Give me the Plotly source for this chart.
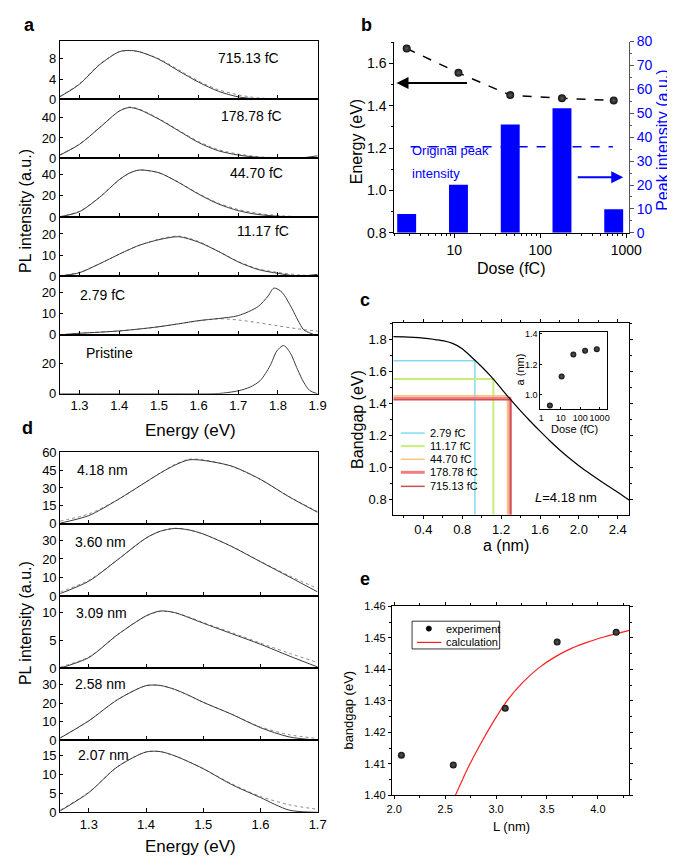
import math
import plotly.graph_objects as go

W, H = 675, 857
FONT = "Liberation Sans, Arial, Helvetica, sans-serif"

# ---------------- panel a : PL spectra vs dose ----------------
E_a = [1.25, 1.30, 1.35, 1.40, 1.425, 1.45, 1.50, 1.55, 1.60, 1.65, 1.70, 1.75, 1.80, 1.85, 1.90]
pl_715 = [0.5, 3.0, 6.8, 9.4, 9.65, 9.4, 7.9, 5.6, 3.4, 1.6, 0.5, 0.1, 0.0, 0.0, 0.2]
fit_715 = [0.6, 3.1, 6.9, 9.4, 9.6, 9.4, 8.0, 5.8, 3.6, 1.9, 0.9, 0.3, 0.1, 0.0, 0.0]
pl_179 = [3.0, 13.8, 30.0, 46.5, 50.0, 48.0, 38.5, 27.0, 15.5, 7.4, 3.2, 1.0, 0.3, 0.0, 2.5]
fit_179 = [3.5, 14.0, 30.0, 46.5, 50.5, 48.5, 39.0, 27.5, 16.5, 8.5, 4.2, 1.6, 0.5, 0.1, 0.0]
pl_447 = [0.3, 5.2, 18.4, 35.0, 41.0, 44.0, 41.5, 32.3, 21.5, 12.3, 6.1, 2.5, 0.9, 0.2, 0.6]
fit_447 = [0.5, 5.5, 18.5, 35.0, 41.0, 44.0, 41.5, 32.5, 22.0, 13.0, 7.2, 3.5, 1.5, 0.5, 0.1]
pl_112 = [0.0, 1.6, 5.8, 10.4, 12.6, 14.6, 17.3, 18.7, 16.1, 11.7, 6.7, 3.1, 1.3, 0.0, 0.8]
fit_112 = [0.2, 1.8, 5.8, 10.4, 12.6, 14.6, 17.5, 19.0, 16.4, 11.8, 6.9, 3.4, 1.7, 0.6, 0.1]
E_279 = [1.25, 1.30, 1.35, 1.40, 1.45, 1.50, 1.55, 1.60, 1.65, 1.70, 1.75, 1.775, 1.79, 1.81, 1.835, 1.85, 1.865, 1.88, 1.90]
pl_279 = [0.0, 0.8, 1.3, 1.9, 2.8, 3.9, 5.3, 6.8, 7.8, 9.2, 13.5, 18.5, 22.3, 20.3, 12.6, 7.1, 2.4, 1.0, -0.5]
E_279_fit = [1.25, 1.30, 1.35, 1.40, 1.45, 1.50, 1.55, 1.60, 1.65, 1.70, 1.75, 1.80, 1.85, 1.90]
fit_279 = [0.0, 0.8, 1.3, 1.9, 2.8, 3.9, 5.3, 6.7, 7.7, 7.1, 5.8, 4.3, 2.9, 1.8]
E_pristine = [1.25, 1.40, 1.55, 1.65, 1.70, 1.73, 1.755, 1.78, 1.797, 1.814, 1.83, 1.849, 1.865, 1.88, 1.90]
pl_pristine = [0.0, 0.0, 0.0, 0.2, 2.0, 4.5, 8.7, 18.5, 28.3, 32.0, 27.5, 16.3, 7.6, 2.2, 0.0]
labels_a = ["715.13 fC", "178.78 fC", "44.70 fC", "11.17 fC", "2.79 fC", "Pristine"]
ticks_energy_a = [1.3, 1.4, 1.5, 1.6, 1.7, 1.8, 1.9]

# ---------------- panel d : PL spectra vs L ----------------
E_d = [1.25, 1.30, 1.35, 1.40, 1.425, 1.45, 1.475, 1.50, 1.55, 1.60, 1.65, 1.70]
pl_418 = [0.6, 6.9, 20.0, 35.0, 42.5, 49.0, 53.5, 53.0, 48.2, 37.2, 22.6, 9.6]
fit_418 = [2.3, 8.3, 20.0, 35.0, 42.5, 49.5, 54.0, 53.5, 48.0, 37.0, 22.8, 10.2]
pl_360 = [1.3, 8.0, 19.5, 31.3, 35.0, 36.5, 35.7, 33.5, 26.7, 18.5, 10.4, 2.2]
fit_360 = [2.2, 8.5, 19.5, 31.3, 35.0, 36.6, 35.8, 33.5, 26.8, 18.7, 11.0, 4.0]
pl_309 = [0.0, 1.9, 6.0, 9.4, 10.3, 10.0, 9.1, 8.1, 6.2, 4.3, 2.2, 0.2]
fit_309 = [0.2, 2.0, 6.0, 9.4, 10.2, 10.0, 9.2, 8.2, 6.4, 4.5, 2.7, 1.0]
pl_258 = [1.2, 10.5, 21.9, 29.5, 29.6, 27.5, 24.2, 20.5, 14.0, 6.8, 1.8, 0.0]
fit_258 = [1.3, 10.5, 21.9, 29.5, 29.6, 27.5, 24.2, 20.5, 14.0, 7.2, 3.0, 0.9]
pl_207 = [0.4, 5.2, 12.0, 15.9, 16.0, 14.9, 13.3, 11.5, 7.3, 3.9, 0.6, 0.0]
fit_207 = [0.6, 5.3, 12.0, 15.9, 16.0, 14.9, 13.3, 11.5, 7.5, 4.2, 2.0, 0.8]
labels_d = ["4.18 nm", "3.60 nm", "3.09 nm", "2.58 nm", "2.07 nm"]
ticks_energy_d = [1.3, 1.4, 1.5, 1.6, 1.7]

# ---------------- panel b : peak energy & intensity vs dose ----------------
dose = [2.79, 11.17, 44.70, 178.78, 715.13]
peak_energy = [1.67, 1.555, 1.45, 1.435, 1.425]
peak_intensity = [7.9, 20.1, 45.3, 52.1, 9.9]
original_peak_intensity = 36
dose_ticks = [10, 100, 1000]

# ---------------- panel c : bandgap vs a ----------------
a_curve = [0.09, 0.2, 0.3, 0.4, 0.5, 0.6, 0.7, 0.8, 0.9, 1.0, 1.1, 1.2, 1.3, 1.4, 1.5,
           1.6, 1.7, 1.8, 1.9, 2.0, 2.1, 2.2, 2.3, 2.4, 2.52]
gap_curve = [1.820, 1.819, 1.816, 1.811, 1.804, 1.795, 1.778, 1.745, 1.690, 1.632, 1.568, 1.496,
             1.424, 1.355, 1.290, 1.228, 1.168, 1.112, 1.060, 1.012, 0.967, 0.925, 0.885, 0.846, 0.795]
a_dose = [0.93, 1.12, 1.265, 1.29, 1.30]
dose_labels = ["2.79 fC", "11.17 fC", "44.70 fC", "178.78 fC", "715.13 fC"]
inset_dose_ticks = [1, 10, 100, 1000]

# ---------------- panel e : bandgap vs L ----------------
L_exp = [2.07, 2.58, 3.09, 3.60, 4.18]
Eg_exp = [1.4128, 1.4097, 1.4277, 1.4487, 1.4518]
L_calc = [2.60, 2.72, 2.85, 2.97, 3.10, 3.26, 3.42, 3.58, 3.74, 3.90, 4.06, 4.31]
Eg_calc = [1.4000, 1.4085, 1.4165, 1.4232, 1.4297, 1.4358, 1.4405, 1.4440, 1.4467, 1.4487, 1.4503, 1.4524]

# =====================================================================
fig = go.Figure()
layout = {}
annotations = []
shapes = []
n_axes = [0]


def X(p):
    return p / W


def Y(p):
    return 1 - p / H


def add_axes(xd, yd, xax, yax):
    n_axes[0] += 1
    n = n_axes[0]
    s = "" if n == 1 else str(n)
    layout["xaxis" + s] = dict(domain=[X(xd[0]), X(xd[1])], anchor="y" + s, **xax)
    layout["yaxis" + s] = dict(domain=[Y(yd[1]), Y(yd[0])], anchor="x" + s, **yax)
    return "x" + s, "y" + s


def ax_style(size=13, ticks="inside", ticklen=4, mirror=True, **kw):
    d = dict(showline=True, linecolor="black", linewidth=1, mirror=mirror, showgrid=False,
             zeroline=False, ticks=ticks, ticklen=ticklen, tickwidth=1, tickcolor="black",
             tickangle=0, tickfont=dict(family=FONT, size=size, color="black"), fixedrange=True)
    d.update(kw)
    return d


def text(x, y, s, size, color="black", angle=0, xanchor="center", yanchor="middle"):
    annotations.append(dict(x=X(x), y=Y(y), xref="paper", yref="paper", text=s, showarrow=False,
                            font=dict(family=FONT, size=size, color=color), textangle=angle,
                            xanchor=xanchor, yanchor=yanchor))


def spectrum(xr, yr, ex, ey, fx, fy):
    if fx is not None:
        fig.add_trace(go.Scatter(x=fx, y=fy, mode="lines", xaxis=xr, yaxis=yr, showlegend=False,
                                 line=dict(color="#8a8a8a", width=1, dash="dot", shape="spline", smoothing=0.8)))
    fig.add_trace(go.Scatter(x=ex, y=ey, mode="lines", xaxis=xr, yaxis=yr, showlegend=False,
                             line=dict(color="#3a3a3a", width=1, shape="spline", smoothing=0.8)))


SPHERE = dict(color="#111111", gradient=dict(type="radial", color="#5a5a5a"), line=dict(width=0))

# ---------------- panel a ----------------
a_bounds = [25, 85, 145, 205, 265, 325, 385]
a_specs = [
    (E_a, pl_715, E_a, fit_715, [0, 11.6], [0, 4, 8], (242, 43)),
    (E_a, pl_179, E_a, fit_179, [0, 58], [0, 20, 40], (245, 102)),
    (E_a, pl_447, E_a, fit_447, [0, 55], [0, 20, 40], (250, 160)),
    (E_a, pl_112, E_a, fit_112, [0, 28], [0, 10, 20], (257, 219)),
    (E_279, pl_279, E_279_fit, fit_279, [0, 28], [0, 10, 20], (92, 284)),
    (E_pristine, pl_pristine, None, None, [0, 39], [0, 20], (99, 343)),
]
for i, (ex, ey, fx, fy, yrng, ytv, lab) in enumerate(a_specs):
    xr, yr = add_axes((48, 313), (a_bounds[i], a_bounds[i + 1]),
                      ax_style(size=13, range=[1.25, 1.9], tickvals=ticks_energy_a, tickformat=".1f",
                               showticklabels=(i == len(a_specs) - 1)),
                      ax_style(size=13, range=yrng, tickvals=ytv, ticklen=3))
    spectrum(xr, yr, ex, ey, fx, fy)
    text(lab[0], lab[1], labels_a[i], 14)

text(13, 199, "PL intensity (a.u.)", 16, angle=-90)
text(182, 422, "Energy (eV)", 17)

# ---------------- panel d ----------------
d_bounds = [444, 517.5, 591, 664.5, 738, 811.5]
d_specs = [
    (pl_418, fit_418, [0, 60.3], [0, 15, 30, 45, 60], (92, 463)),
    (pl_360, fit_360, [0, 39], [0, 10, 20, 30], (90, 536)),
    (pl_309, fit_309, [0, 13], [0, 5, 10], (91, 608)),
    (pl_258, fit_258, [0, 39], [0, 10, 20, 30], (90, 681)),
    (pl_207, fit_207, [0, 19], [0, 5, 10, 15], (93, 753)),
]
for i, (ey, fy, yrng, ytv, lab) in enumerate(d_specs):
    xr, yr = add_axes((48.5, 313), (d_bounds[i], d_bounds[i + 1]),
                      ax_style(size=13, range=[1.25, 1.7], tickvals=ticks_energy_d, tickformat=".1f",
                               showticklabels=(i == len(d_specs) - 1)),
                      ax_style(size=13, range=yrng, tickvals=ytv, ticklen=3))
    spectrum(xr, yr, E_d, ey, E_d, fy)
    text(lab[0], lab[1], labels_d[i], 14)

text(13, 619, "PL intensity (a.u.)", 16, angle=-90)
text(182, 846, "Energy (eV)", 17)

# ---------------- panel b ----------------
b_xrange = [math.log10(2.0), math.log10(1072)]
minor_log = [m * 10 ** k for k in range(0, 3) for m in range(2, 10)]
xb, yb = add_axes((391.7, 632.7), (26, 221),
                  ax_style(size=14, ticks="outside", mirror=False, type="log", range=b_xrange,
                           tickvals=dose_ticks, ticktext=[str(t) for t in dose_ticks],
                           minor=dict(ticks="outside", ticklen=2, tickvals=minor_log, tickcolor="black")),
                  ax_style(size=14, ticks="outside", mirror=False, range=[0.8, 1.703],
                           tickvals=[0.8, 1.0, 1.2, 1.4, 1.6], tickformat=".1f",
                           minor=dict(ticks="outside", ticklen=2, dtick=0.1, tickcolor="black")))
n_axes[0] += 1
s2 = str(n_axes[0])
layout["xaxis" + s2] = dict(overlaying=xb, range=b_xrange, visible=False, anchor="y" + s2,
                            domain=layout["xaxis" + xb[1:]]["domain"], fixedrange=True)
layout["yaxis" + s2] = dict(overlaying=yb, side="right", anchor=xb, range=[0, 80], dtick=10,
                            showline=True, linecolor="#555", linewidth=1, showgrid=False, zeroline=False,
                            ticks="outside", ticklen=4, tickcolor="#555", tickangle=0,
                            minor=dict(ticks="outside", ticklen=2, dtick=5, tickcolor="#555"),
                            tickfont=dict(family=FONT, size=14, color="#0000ff"), fixedrange=True)
xb2, yb2 = "x" + s2, "y" + s2

fig.add_trace(go.Scatter(x=dose, y=peak_energy, mode="lines+markers", xaxis=xb, yaxis=yb, showlegend=False,
                         line=dict(color="black", width=1.5, dash="dash"),
                         marker=dict(size=8, **SPHERE)))
fig.add_trace(go.Bar(x=[math.log10(d) for d in dose], y=peak_intensity, width=0.22, xaxis=xb2, yaxis=yb2,
                     showlegend=False, marker=dict(color="#0000ff", line=dict(width=0))))
fig.add_trace(go.Scatter(x=[math.log10(3.1), math.log10(700)],
                         y=[original_peak_intensity, original_peak_intensity],
                         mode="lines", xaxis=xb2, yaxis=yb2, showlegend=False,
                         line=dict(color="#0000ff", width=1.5, dash="dash")))

text(408, 137, "Original peak", 13, color="#0000ff", xanchor="left")
text(408, 160, "intensity", 13, color="#0000ff", xanchor="left")
annotations.append(dict(x=X(394), y=Y(68.3), xref="paper", yref="paper", text="", showarrow=True,
                        ax=72, ay=0, arrowhead=2, arrowsize=1.2, arrowwidth=2, arrowcolor="black"))
annotations.append(dict(x=X(627), y=Y(164.3), xref="paper", yref="paper", text="", showarrow=True,
                        ax=-47, ay=0, arrowhead=2, arrowsize=1.2, arrowwidth=2, arrowcolor="#0000ff"))
text(353, 128, "Energy (eV)", 16, angle=-90)
text(667, 127, "Peak intensity (a.u.)", 16, color="#0000ff", angle=-90)
text(512, 257, "Dose (fC)", 16)

# ---------------- panel c ----------------
c_xrange = [0.09, 2.52]
c_yrange = [0.704, 1.903]
xc, yc = add_axes((390.7, 633.3), (313.3, 508.3),
                  ax_style(size=13, ticks="outside", ticklen=3, mirror="ticks", range=c_xrange,
                           tickvals=[0.4, 0.8, 1.2, 1.6, 2.0, 2.4], tickformat=".1f",
                           minor=dict(ticks="outside", ticklen=2, dtick=0.2, tick0=0.2, tickcolor="black")),
                  ax_style(size=13, ticks="outside", ticklen=3, mirror="ticks", range=c_yrange,
                           tickvals=[0.8, 1.0, 1.2, 1.4, 1.6, 1.8], tickformat=".1f",
                           minor=dict(ticks="outside", ticklen=2, dtick=0.1, tickcolor="black")))
c_colors = ["#7fdcee", "#c8ee78", "#ffc27a", "#f08080", "#cc5050"]
c_widths = [1.5, 2, 1.5, 3, 1.5]
for i in range(len(dose)):
    fig.add_trace(go.Scatter(x=[c_xrange[0], a_dose[i], a_dose[i]],
                             y=[peak_energy[i], peak_energy[i], c_yrange[0]],
                             mode="lines", xaxis=xc, yaxis=yc, showlegend=False,
                             line=dict(color=c_colors[i], width=c_widths[i])))
fig.add_trace(go.Scatter(x=a_curve, y=gap_curve, mode="lines", xaxis=xc, yaxis=yc, showlegend=False,
                         line=dict(color="black", width=1.2, shape="spline", smoothing=0.6)))
# legend of panel c
leg_rows = [425, 438.3, 451.7, 465, 479.3]
for i, yy in enumerate(leg_rows):
    shapes.append(dict(type="line", xref="paper", yref="paper", x0=X(398.5), x1=X(423), y0=Y(yy), y1=Y(yy),
                       line=dict(color=c_colors[i], width=c_widths[i])))
    text(426, yy, dose_labels[i], 11, xanchor="left")
text(568, 491, "<i>L</i>=4.18 nm", 13)
text(354, 411, "Bandgap (eV)", 16, angle=-90)
text(507, 540, "a (nm)", 16)

# inset
xi, yi = add_axes((541.7, 610.7), (321.7, 400.7),
                  ax_style(size=9, ticks="inside", ticklen=2, mirror=True, type="log",
                           range=[-0.05, 3.4], tickvals=inset_dose_ticks,
                           ticktext=[str(t) for t in inset_dose_ticks]),
                  ax_style(size=9, ticks="inside", ticklen=2, mirror=True, range=[0.905, 1.415],
                           tickvals=[1.0, 1.2, 1.4], tickformat=".1f"))
fig.add_trace(go.Scatter(x=dose, y=a_dose, mode="markers", xaxis=xi, yaxis=yi, showlegend=False,
                         marker=dict(size=6, **SPHERE)))
text(521, 360, "a (nm)", 11, angle=-90)
text(577, 421, "Dose (fC)", 11)

# ---------------- panel e ----------------
xe, ye = add_axes((389.3, 633.3), (601.7, 794.3),
                  ax_style(size=11, ticks="outside", ticklen=3, mirror="ticks", range=[1.977, 4.31],
                           tickvals=[2.0, 2.5, 3.0, 3.5, 4.0], tickformat=".1f",
                           minor=dict(ticks="outside", ticklen=2, dtick=0.25, tick0=2.0, tickcolor="black")),
                  ax_style(size=11, ticks="outside", ticklen=3, mirror="ticks", range=[1.40, 1.46],
                           tickvals=[1.40, 1.41, 1.42, 1.43, 1.44, 1.45, 1.46], tickformat=".2f",
                           minor=dict(ticks="outside", ticklen=2, dtick=0.005, tickcolor="black")))
fig.add_trace(go.Scatter(x=L_calc, y=Eg_calc, mode="lines", xaxis=xe, yaxis=ye, showlegend=False,
                         line=dict(color="#ff2020", width=1.2, shape="spline", smoothing=0.8)))
fig.add_trace(go.Scatter(x=L_exp, y=Eg_exp, mode="markers", xaxis=xe, yaxis=ye, showlegend=False,
                         marker=dict(size=7, **SPHERE)))
# legend of panel e
shapes.append(dict(type="rect", xref="paper", yref="paper", x0=X(410), x1=X(500), y0=Y(645), y1=Y(616.7),
                   line=dict(color="black", width=0.8), fillcolor="rgba(0,0,0,0)"))
shapes.append(dict(type="circle", xref="paper", yref="paper", x0=X(424.5), x1=X(430), y0=Y(627), y1=Y(621.5),
                   line=dict(color="black", width=0.5), fillcolor="black"))
shapes.append(dict(type="line", xref="paper", yref="paper", x0=X(415), x1=X(440), y0=Y(638.3), y1=Y(638.3),
                   line=dict(color="#ff2020", width=1.2)))
text(442.7, 624.3, "experiment", 11, xanchor="left")
text(442.7, 638.3, "calculation", 11, xanchor="left")
text(345, 707, "bandgap (eV)", 13, angle=-90)
text(512, 826, "L (nm)", 13)

# ---------------- panel letters ----------------
for lt, (lx, ly) in zip("abcde", [(17, 9), (363, 9), (362, 289), (15, 420), (362, 574)]):
    text(lx, ly, "<b>%s</b>" % lt, 18)

layout.update(dict(width=W, height=H, autosize=False, margin=dict(l=0, r=0, t=0, b=0, pad=0),
                   paper_bgcolor="white", plot_bgcolor="white", showlegend=False,
                   annotations=annotations, shapes=shapes, barmode="overlay",
                   font=dict(family=FONT, color="black")))
fig.update_layout(**layout)
fig.write_html("out.html")
